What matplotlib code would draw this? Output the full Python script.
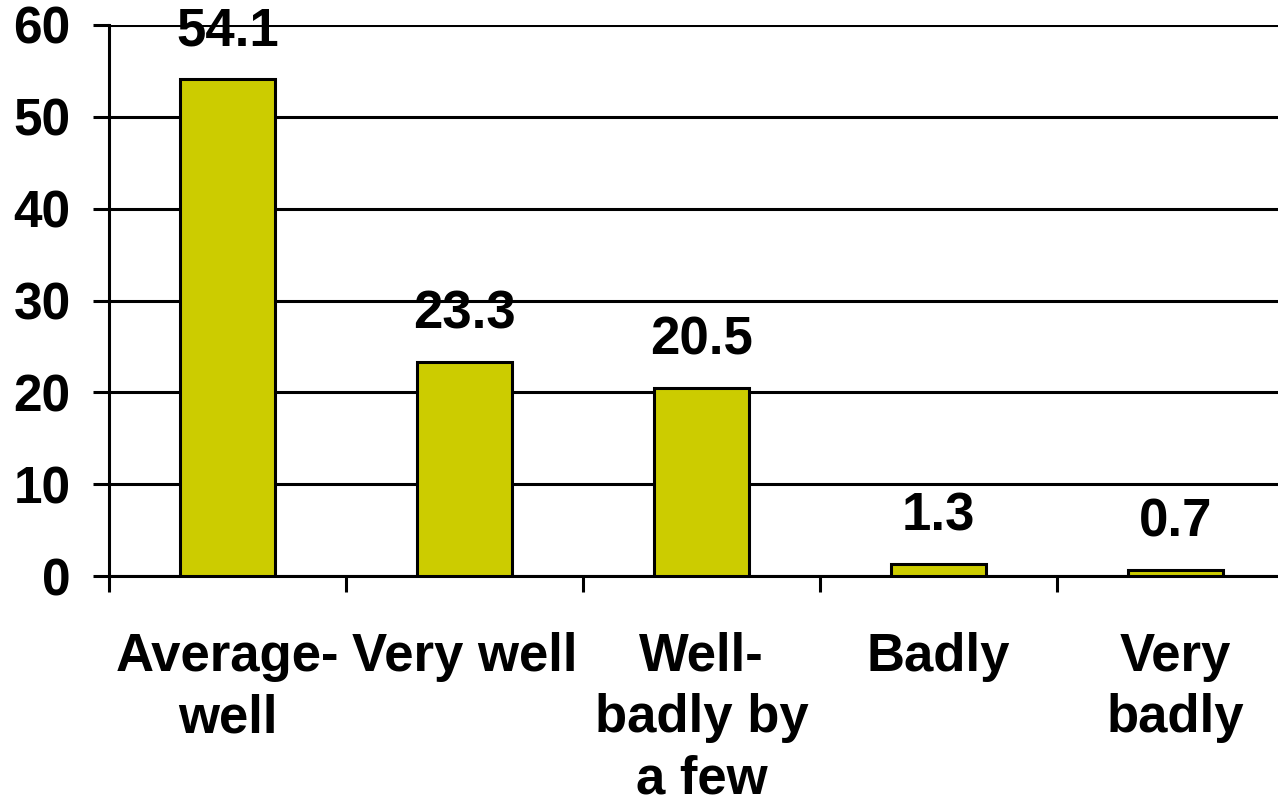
import matplotlib
matplotlib.use("Agg")
import matplotlib.pyplot as plt
import numpy as np

categories = ["Average-\nwell", "Very well", "Well-\nbadly by\na few", "Badly", "Very\nbadly"]
values = [54.1, 23.3, 20.5, 1.3, 0.7]
value_labels = ["54.1", "23.3", "20.5", "1.3", "0.7"]
yticks = [0, 10, 20, 30, 40, 50, 60]

plt.rcParams['font.family'] = ['Liberation Sans', 'DejaVu Sans']
plt.rcParams['font.weight'] = 'bold'

W, H = 1278, 801
fig = plt.figure(figsize=(W / 100, H / 100), dpi=100)
ax = fig.add_axes([109 / W, 225 / H, 1185 / W, 551 / H])

lw = 2.2
x = np.arange(len(categories))
ax.bar(x, values, width=0.405, color="#CCCC00", edgecolor="black", linewidth=lw, zorder=3)

ax.set_xlim(-0.5, len(categories) - 0.5)
ax.set_ylim(0, 60)
ax.set_yticks(yticks)
ax.set_yticklabels([str(t) for t in yticks], fontsize=37, fontweight='bold')
ax.yaxis.grid(True, color="black", linewidth=lw, zorder=1)
ax.set_axisbelow(True)

ax.set_xticks(x)
ax.set_xticklabels(categories, fontsize=38, fontweight='bold', linespacing=1.3,
                   multialignment='center', va='top')
ax.set_xticks(np.arange(-0.5, len(categories), 1.0), minor=True)
ax.tick_params(axis='x', which='major', length=0, pad=40)
ax.tick_params(axis='x', which='minor', length=11.5, width=lw, color='black', direction='out')
ax.tick_params(axis='y', length=11.5, width=lw, color='black', direction='out', pad=16)

for s in ['top', 'right']:
    ax.spines[s].set_visible(False)
for s in ['left', 'bottom']:
    ax.spines[s].set_linewidth(lw)
    ax.spines[s].set_color('black')

for xi, v, lab in zip(x, values, value_labels):
    ax.annotate(lab, xy=(xi, v), xytext=(0, 24), textcoords='offset points',
                ha='center', va='baseline', fontsize=38, fontweight='bold', zorder=5)

fig.savefig("out.png", dpi=100, facecolor="white")
